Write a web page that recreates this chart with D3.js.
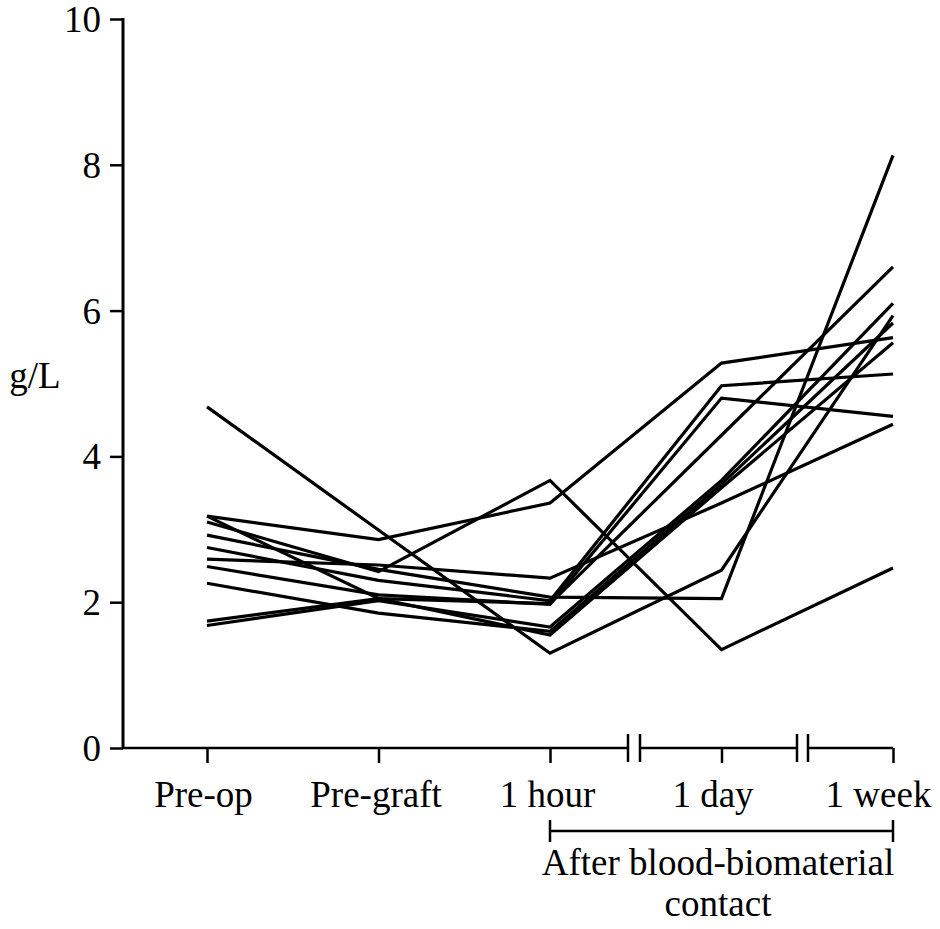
<!DOCTYPE html>
<html>
<head>
<meta charset="utf-8">
<script src="https://cdn.jsdelivr.net/npm/d3@7"></script>
<style>
  html, body { margin: 0; padding: 0; background: #fff; }
  svg { display: block; }
  text { font-family: "Liberation Serif", "DejaVu Serif", serif; fill: #000; }
</style>
</head>
<body>
<svg id="chart" width="940" height="929"></svg>
<script>
// Time points along the x axis
const timepoints = ["Pre-op", "Pre-graft", "1 hour", "1 day", "1 week"];

// Individual patient series (g/L) at each time point
const patient01 = [4.68, 2.99, 1.30, 2.44, 5.93];
const patient02 = [3.10, 2.42, 3.67, 1.35, 2.47];
const patient03 = [3.18, 2.86, 3.36, 5.28, 5.63];
const patient04 = [2.92, 2.45, 2.07, 2.05, 8.13];
const patient05 = [2.59, 2.51, 2.33, 3.36, 4.44];
const patient06 = [2.75, 2.30, 2.02, 4.97, 5.13];
const patient07 = [2.49, 2.10, 1.97, 4.80, 4.55];
const patient08 = [1.74, 2.05, 1.98, 4.29, 6.60];
const patient09 = [1.68, 2.02, 1.66, 3.67, 6.10];
const patient10 = [2.26, 1.85, 1.60, 3.62, 5.83];
const patient11 = [3.18, 2.05, 1.55, 3.57, 5.56];

const series = [patient01, patient02, patient03, patient04, patient05, patient06,
                patient07, patient08, patient09, patient10, patient11];

const yTicks = [0, 2, 4, 6, 8, 10];
const yLabel = "g/L";
const spanLabel = ["After blood-biomaterial", "contact"];

const svg = d3.select("#chart");

const x = d3.scalePoint().domain(timepoints).range([207, 893]);
const y = d3.scaleLinear().domain([0, 10]).range([748, 19]);

const axisX = 123;
const axisY = y(0);
const fontSize = 37;
const serif = "'Liberation Serif', serif";

// Y axis
const yAxis = d3.axisLeft(y).tickValues(yTicks).tickSize(13).tickPadding(9).tickFormat(d3.format("d"));
const gy = svg.append("g").attr("transform", `translate(${axisX},0)`).call(yAxis);
gy.select(".domain").remove();
gy.selectAll(".tick line").attr("stroke", "#000").attr("stroke-width", 2.5);
gy.selectAll(".tick text").attr("font-size", fontSize).attr("dy", "0.34em")
  .style("font-family", serif);
svg.append("line")
  .attr("x1", axisX).attr("x2", axisX)
  .attr("y1", y(10) - 1).attr("y2", axisY + 1)
  .attr("stroke", "#000").attr("stroke-width", 3);

svg.append("text")
  .attr("x", 35).attr("y", y(5.05))
  .attr("text-anchor", "middle")
  .attr("dominant-baseline", "middle")
  .attr("font-size", fontSize)
  .text(yLabel);

// X axis, drawn in pieces with break marks between the later time points
const breakA = [628, 640];
const breakB = [797, 808];
const segments = [[axisX, breakA[0]], [breakA[1], breakB[0]], [breakB[1], x("1 week")]];
segments.forEach(([a, b]) => {
  svg.append("line")
    .attr("x1", a).attr("x2", b).attr("y1", axisY).attr("y2", axisY)
    .attr("stroke", "#000").attr("stroke-width", 2.5);
});
[...breakA, ...breakB].forEach(bx => {
  svg.append("line")
    .attr("x1", bx).attr("x2", bx).attr("y1", axisY - 14).attr("y2", axisY + 14)
    .attr("stroke", "#000").attr("stroke-width", 2.5);
});

// Small horizontal nudges keep the right-hand labels inside the page
const labelShift = { "Pre-op": -4, "Pre-graft": -3, "1 hour": -3, "1 day": -9, "1 week": -15 };

const gx = svg.append("g").attr("transform", `translate(0,${axisY})`)
  .call(d3.axisBottom(x).tickSize(15).tickPadding(18));
gx.select(".domain").remove();
gx.selectAll(".tick line").attr("stroke", "#000").attr("stroke-width", 2.5);
gx.selectAll(".tick text").attr("font-size", fontSize)
  .attr("dx", d => labelShift[d] || 0)
  .style("font-family", serif);

// Bracket marking the post-contact period
const bracketY = 831;
svg.append("line")
  .attr("x1", x("1 hour")).attr("x2", x("1 week"))
  .attr("y1", bracketY).attr("y2", bracketY)
  .attr("stroke", "#000").attr("stroke-width", 2.5);
[x("1 hour"), x("1 week")].forEach(bx => {
  svg.append("line")
    .attr("x1", bx).attr("x2", bx).attr("y1", bracketY - 11).attr("y2", bracketY + 11)
    .attr("stroke", "#000").attr("stroke-width", 2.5);
});
svg.append("text")
  .attr("x", 718).attr("y", 875)
  .attr("text-anchor", "middle").attr("font-size", fontSize)
  .text(spanLabel[0]);
svg.append("text")
  .attr("x", 718).attr("y", 916)
  .attr("text-anchor", "middle").attr("font-size", fontSize)
  .text(spanLabel[1]);

// Patient lines
const line = d3.line()
  .x((d, i) => x(timepoints[i]))
  .y(d => y(d));

svg.append("g")
  .selectAll("path")
  .data(series)
  .join("path")
  .attr("d", line)
  .attr("fill", "none")
  .attr("stroke", "#000")
  .attr("stroke-width", 3.2)
  .attr("stroke-linejoin", "miter");
</script>
</body>
</html>
